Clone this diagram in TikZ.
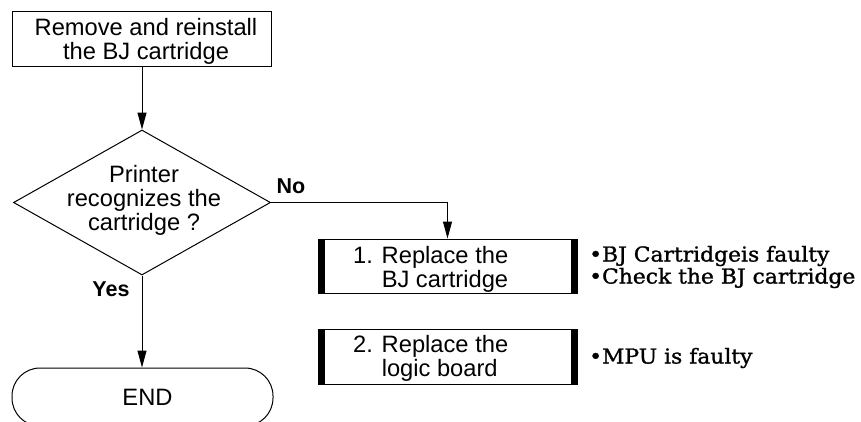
\documentclass[tikz,border=0pt]{standalone}
\usepackage{fontspec}
\setmainfont{Liberation Sans}
\newfontfamily\bulfont[FakeStretch=1.06,FakeBold=1.2]{DejaVu Serif}
\usetikzlibrary{shapes.geometric,arrows.meta}
\tikzset{
  sanstext/.style={font=\fontsize{23.7pt}{24pt}\selectfont, inner sep=0pt},
  yesno/.style={font=\fontsize{21.5pt}{24pt}\selectfont\bfseries, inner sep=0pt},
  bultext/.style={font=\bulfont\fontsize{20.6pt}{22pt}\selectfont, inner sep=0pt, align=left, anchor=west},
  boxshape/.style={draw, line width=1pt, inner sep=0pt, minimum width=259pt, minimum height=55pt},
  arr/.style={line width=1pt, -{Triangle[length=17pt,width=9pt]}},
  conn/.style={line width=1pt}
}
\begin{document}
\begin{tikzpicture}[x=1pt,y=-1pt]
\useasboundingbox (0,0) rectangle (861,421);
\clip (0,0) rectangle (861,421);
% start box
\node[boxshape] (start) at (142,38.5) {};
\node[sanstext, align=center] (startt) at (146,41.8) {Remove and reinstall\\the BJ cartridge};
% decision
\node[diamond, draw, line width=1pt, inner sep=0pt, minimum width=257pt, minimum height=145pt] (dec) at (142,202.5) {};
\node[sanstext, align=center] (dect) at (144,200) {Printer\\recognizes the\\cartridge ?};
% action boxes
\node[boxshape, minimum height=54pt] (b1) at (447.5,266) {};
\fill (b1.north west) rectangle ([xshift=7pt]b1.south west);
\fill (b1.north east) rectangle ([xshift=-7pt]b1.south east);
\node[sanstext, align=left, anchor=west] (b1t) at (353,268.9) {1. Replace the\\\phantom{1. }BJ cartridge};
\node[boxshape, minimum height=55pt] (b2) at (447.5,356.5) {};
\fill (b2.north west) rectangle ([xshift=7pt]b2.south west);
\fill (b2.north east) rectangle ([xshift=-7pt]b2.south east);
\node[sanstext, align=left, anchor=west] (b2t) at (353,358.7) {2. Replace the\\\phantom{2. }logic board};
% notes
\node[bultext] (n1) at (589,267) {•BJ Cartridgeis faulty\\•Check the BJ cartridge};
\node[bultext] (n2) at (589,358) {•MPU is faulty};
% end
\node[draw, line width=1pt, rounded corners=28pt, minimum width=261pt, minimum height=58pt, inner sep=0pt] (endn) at (142.5,397) {};
\node[sanstext] (endt) at (147.5,397.5) {END};
% labels
\node[yesno] (no) at (291,186) {No};
\node[yesno] (yes) at (111,289) {Yes};
% connectors
\draw[arr] (start.south) -- (dec.north);
\draw[arr] (dec.east) -| (b1.north);
\draw[arr] (dec.south) -- (dec.south |- endn.north);
\end{tikzpicture}
\end{document}
